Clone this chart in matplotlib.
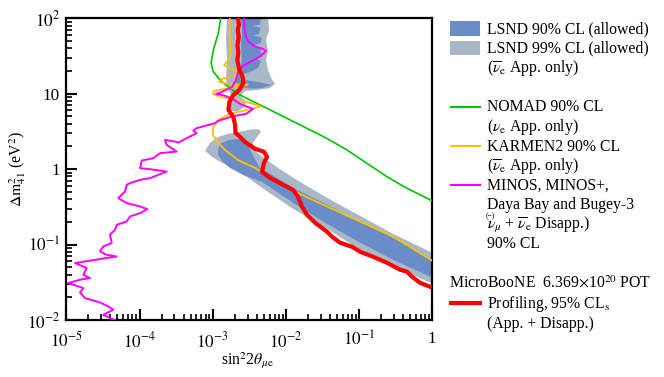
import matplotlib
matplotlib.use("Agg")
import matplotlib.pyplot as plt
from matplotlib.patches import Rectangle
from matplotlib.lines import Line2D

plt.rcParams['font.family'] = 'serif'
plt.rcParams['font.serif'] = ['Liberation Serif', 'DejaVu Serif']
plt.rcParams['mathtext.fontset'] = 'stix'
FS = 11.3
TFS = 12.3

# ---------------- data ----------------
# LSND 99% CL allowed region (two islands)
lsnd99_hi_x = [1.57e-3, 5.70e-3, 5.89e-3, 5.35e-3, 5.70e-3, 5.35e-3, 5.70e-3, 6.27e-3, 7.10e-3, 6.07e-3,
               4.16e-3, 2.76e-3, 2.36e-3, 2.85e-3, 2.68e-3, 2.08e-3, 1.72e-3, 1.62e-3, 1.84e-3, 1.62e-3,
               1.52e-3, 1.57e-3, 1.52e-3]
lsnd99_hi_y = [100, 100, 70, 51.6, 38.0, 28.1, 20.7, 16.2, 13.5, 11.9,
               11.2, 10.9, 9.35, 7.78, 6.49, 5.74, 6.10, 7.78, 9.35, 11.2,
               15.2, 28.1, 51.6]
lsnd99_lo_x = [7.85e-4, 9.18e-4, 1.15e-3, 1.62e-3, 2.44e-3, 3.44e-3, 4.30e-3, 4.57e-3, 4.03e-3, 3.56e-3,
               3.66e-3, 4.72e-3, 7.80e-3, 1.33e-2, 3.65e-2, 0.103, 0.290, 1.0, 1.0, 0.290,
               0.103, 3.65e-2, 1.25e-2, 4.72e-3, 2.36e-3, 1.26e-3, 9.77e-4]
lsnd99_lo_y = [1.75, 2.23, 2.64, 2.94, 3.17, 3.37, 3.37, 3.12, 2.68, 2.23,
               1.80, 1.46, 1.04, 0.744, 0.417, 0.240, 0.139, 0.0778, 0.0303, 0.0524,
               0.0853, 0.162, 0.298, 0.565, 0.920, 1.25, 1.46]
# LSND 90% CL allowed region
lsnd90_hi_x = [2.44e-3, 4.57e-3, 4.40e-3, 3.50e-3, 4.50e-3, 4.30e-3, 3.60e-3, 4.72e-3, 4.50e-3, 3.70e-3,
               4.43e-3, 4.72e-3, 3.80e-3, 4.60e-3, 4.16e-3, 3.24e-3, 2.68e-3, 2.36e-3,
               2.76e-3, 4.16e-3, 6.47e-3, 4.72e-3, 3.24e-3, 2.36e-3, 2.08e-3, 2.15e-3, 2.36e-3, 2.51e-3,
               2.44e-3, 2.51e-3]
lsnd90_hi_y = [100, 100, 82, 79, 75, 62, 59, 55, 47, 44,
               40, 32, 30, 27, 22.0, 19.4, 18.3, 16.2,
               15.2, 14.3, 13.1, 11.9, 11.7, 12.3, 13.5, 16.2, 20.7, 28.1,
               44.3, 70]
lsnd90_lo_x = [1.18e-3, 1.30e-3, 1.62e-3, 2.15e-3, 2.59e-3, 3.03e-3, 3.56e-3, 4.43e-3, 7.55e-3, 1.25e-2,
               3.65e-2, 0.103, 0.290, 1.0, 1.0, 0.290, 0.103, 3.65e-2, 1.25e-2, 4.72e-3,
               2.76e-3, 1.72e-3, 1.34e-3, 1.18e-3]
lsnd90_lo_y = [1.86, 2.20, 2.40, 2.52, 2.40, 2.04, 1.50, 1.04, 0.767, 0.565,
               0.337, 0.202, 0.123, 0.0630, 0.0364, 0.0630, 0.106, 0.188, 0.358, 0.679,
               0.815, 1.04, 1.29, 1.55]

# NOMAD 90% CL
nomad_x = [1.29e-3, 1.19e-3, 1.02e-3, 9.5e-4, 1.02e-3, 1.26e-3, 1.72e-3, 2.36e-3, 3.59e-3, 5.47e-3,
           1.03e-2, 1.92e-2, 3.6e-2, 6.8e-2, 0.127, 0.238, 0.447, 1.0]
nomad_y = [100, 63.3, 38, 25.3, 19.6, 15.2, 11.8, 9.64, 7.85, 6.43,
           4.73, 3.49, 2.57, 1.80, 1.20, 0.798, 0.560, 0.38]

# KARMEN2 90% CL
karmen_x = [1.72e-3, 1.70e-3, 1.75e-3, 1.78e-3, 1.57e-3, 1.43e-3, 1.67e-3, 2.08e-3, 2.36e-3, 1.84e-3,
            1.30e-3, 1.22e-3, 1.62e-3, 2.51e-3, 3.03e-3, 2.36e-3, 1.47e-3, 1.04e-3, 1.01e-3, 1.26e-3,
            2.08e-3, 3.24e-3, 4.57e-3, 2.94e-3, 1.72e-3, 1.18e-3, 1.01e-3, 1.01e-3, 1.11e-3, 1.47e-3,
            2.22e-3, 3.78e-3, 6.47e-3, 1.07e-2, 1.82e-2, 3.65e-2, 0.103, 0.290, 1.0]
karmen_y = [100, 60.1, 38.0, 31.7, 26.4, 24.1, 22.0, 20.0, 18.3, 16.7,
            15.7, 14.3, 13.5, 13.1, 13.3, 12.3, 11.6, 10.9, 9.94, 9.08,
            8.28, 7.55, 6.79, 6.10, 5.40, 4.50, 3.50, 2.84, 2.44, 1.80,
            1.32, 1.04, 0.767, 0.565, 0.436, 0.320, 0.202, 0.128, 0.061]

# MINOS, MINOS+, Daya Bay and Bugey-3 90% CL
minos_x = [2.68e-3, 2.72e-3, 2.85e-3, 3.13e-3, 3.78e-3, 4.87e-3, 5.35e-3, 4.57e-3, 3.44e-3, 2.59e-3,
           2.22e-3, 2.08e-3, 1.84e-3, 1.34e-3, 1.11e-3, 1.43e-3, 1.89e-3, 2.36e-3, 3.56e-3, 2.85e-3,
           1.84e-3, 1.18e-3, 1.07e-3, 6.04e-4, 5.43e-4, 6.04e-4, 3.96e-4, 3.39e-4, 3.06e-4, 2.23e-4,
           2.35e-4, 3.22e-4, 1.91e-4, 1.55e-4, 1.07e-4, 1.02e-4, 1.39e-4, 2.35e-4, 1.81e-4, 1.39e-4,
           1.02e-4, 7.41e-5, 6.68e-5, 6.34e-5, 5.13e-5, 6.68e-5, 1.02e-4, 1.28e-4, 1.02e-4, 7.41e-5,
           6.68e-5, 4.89e-5, 4.62e-5, 3.95e-5, 4.17e-5, 3.20e-5, 2.88e-5, 3.56e-5, 4.89e-5, 2.88e-5,
           1.32e-5, 1.90e-5, 1.71e-5, 2.11e-5, 1.54e-5, 1.06e-5, 1.71e-5, 1.54e-5, 1.80e-5, 2.88e-5,
           3.75e-5, 4.39e-5, 3.20e-5, 3.95e-5, 4.62e-5]
minos_y = [100, 70, 56.5, 48.5, 42.3, 39.2, 36.9, 31.7, 27.2, 23.3,
           19.4, 15.2, 12.3, 10.6, 9.94, 9.49, 8.53, 7.32, 6.29, 5.40,
           5.00, 4.36, 4.07, 3.49, 3.24, 3.00, 2.44, 2.25, 2.32, 2.44,
           2.10, 1.71, 1.63, 1.40, 1.30, 1.03, 1.00, 0.929, 0.841, 0.760,
           0.721, 0.653, 0.620, 0.505, 0.413, 0.355, 0.320, 0.295, 0.261, 0.236,
           0.202, 0.183, 0.157, 0.135, 0.105, 0.0944, 0.0811, 0.0733, 0.0695, 0.0643,
           0.0569, 0.0489, 0.0398, 0.0360, 0.0342, 0.0309, 0.0265, 0.0232, 0.0195, 0.0171,
           0.0151, 0.0137, 0.0117, 0.0106, 0.0100]

# MicroBooNE profiling 95% CLs
uboone_x = [2.22e-3, 2.28e-3, 2.20e-3, 2.27e-3, 2.18e-3, 2.24e-3, 2.17e-3, 2.31e-3, 2.57e-3, 2.62e-3,
            2.31e-3, 1.91e-3, 1.69e-3,
            1.64e-3, 1.91e-3, 2.02e-3, 2.05e-3, 2.36e-3, 2.76e-3, 3.78e-3, 5.02e-3, 5.52e-3, 5.02e-3,
            4.72e-3, 6.07e-3, 9.12e-3, 1.25e-2, 1.46e-2, 1.66e-2, 1.94e-2, 2.50e-2, 3.65e-2, 4.27e-2,
            5.48e-2, 8.00e-2, 0.103, 0.155, 0.240, 0.362, 0.451, 0.528, 0.679, 0.93]
uboone_y = [100, 82, 70, 56, 44.3, 35, 28.1, 20.7, 16.7, 13.9,
            11.2, 9.64, 7.78,
            6.10, 4.93, 3.86, 3.03, 2.68, 2.30, 1.86, 1.70, 1.46, 1.21,
            0.920, 0.767, 0.620, 0.532, 0.430, 0.317, 0.248, 0.195, 0.148, 0.127,
            0.106, 0.0936, 0.0804, 0.069, 0.0574, 0.0464, 0.0437, 0.0375, 0.0312, 0.0276]

x_ticks = [1e-5, 1e-4, 1e-3, 1e-2, 1e-1, 1]
x_ticklabels = [r'$10^{-5}$', r'$10^{-4}$', r'$10^{-3}$', r'$10^{-2}$', r'$10^{-1}$', '1']
y_ticks = [1e-2, 1e-1, 1, 10, 100]
y_ticklabels = [r'$10^{-2}$', r'$10^{-1}$', '1', '10', r'$10^{2}$']

C90 = '#6a8cc7'
C99 = '#a9b8c6'
CG = '#00c400'
CY = '#ffc000'
CM = '#ff00ff'
CR = '#ff0000'

# ---------------- figure ----------------
W, H = 664, 377
fig = plt.figure(figsize=(W / 100, H / 100), dpi=100)
L, R, T, B = 66.3, 432.3, 18.3, 320.0
ax = fig.add_axes([L / W, 1 - B / H, (R - L) / W, (B - T) / H])
ax.set_xscale('log')
ax.set_yscale('log')

ax.fill(lsnd99_hi_x, lsnd99_hi_y, color=C99, lw=0, zorder=1)
ax.fill(lsnd99_lo_x, lsnd99_lo_y, color=C99, lw=0, zorder=1)
ax.fill(lsnd90_hi_x, lsnd90_hi_y, color=C90, lw=0, zorder=2)
ax.fill(lsnd90_lo_x, lsnd90_lo_y, color=C90, lw=0, zorder=2)

ax.plot(nomad_x, nomad_y, color=CG, lw=1.2, zorder=3)
ax.plot(karmen_x, karmen_y, color=CY, lw=1.3, zorder=4)
ax.plot(minos_x, minos_y, color=CM, lw=1.4, zorder=5)
ax.plot(uboone_x, uboone_y, color=CR, lw=3.0, zorder=6, solid_joinstyle='round')

ax.set_xlim(1e-5, 1)
ax.set_ylim(1e-2, 1e2)
ax.set_xticks(x_ticks, labels=x_ticklabels)
ax.set_yticks(y_ticks, labels=y_ticklabels)
ax.tick_params(which='both', direction='in', top=False, right=False, labelsize=TFS)
ax.tick_params(which='major', length=8, width=1.5)
ax.tick_params(which='minor', length=4.5, width=1.2)
ax.tick_params(axis='x', which='major', pad=8)
ax.tick_params(axis='y', which='major', pad=4.5)
for s in ax.spines.values():
    s.set_linewidth(1.6)

ax.set_xlabel(r'sin$^2$2$\theta_{\mu\mathrm{e}}$', fontsize=FS)
ax.xaxis.set_label_coords(0.496, -0.10)
ax.set_ylabel(r'$\Delta\mathrm{m}^2_{41}$ (eV$^2$)', fontsize=FS)
ax.yaxis.set_label_coords(-0.105, 0.5)

# ---------------- legend ----------------
def fx(px):
    return px / W

def fy(py):
    return 1 - py / H

TX = 486.7
def label(py, s, x=TX):
    fig.text(fx(x), fy(py + 5.3), s, fontsize=FS, ha='left', va='baseline')

fig.patches.append(Rectangle((fx(450), fy(35.5)), 30 / W, 14.5 / H, transform=fig.transFigure,
                             color=C90, lw=0))
fig.patches.append(Rectangle((fx(450), fy(55)), 30 / W, 14.5 / H, transform=fig.transFigure,
                             color=C99, lw=0))
for py, c, lw in [(106.7, CG, 1.5), (145.7, CY, 1.5), (185, CM, 1.5), (302.7, CR, 3.0)]:
    fig.lines.append(Line2D([fx(451), fx(480)], [fy(py), fy(py)], transform=fig.transFigure,
                            color=c, lw=lw))

label(27.7, 'LSND 90% CL (allowed)')
label(47.3, 'LSND 99% CL (allowed)')
label(66.7, r'($\overline{\nu}_{\mathrm{e}}$ App. only)')
label(106, 'NOMAD 90% CL')
label(126, r'($\nu_{\mathrm{e}}$ App. only)')
label(145.3, 'KARMEN2 90% CL')
label(165, r'($\overline{\nu}_{\mathrm{e}}$ App. only)')
label(184.3, 'MINOS, MINOS+,')
label(204, 'Daya Bay and Bugey-3')
label(224, r'$\nu_{\mu}$ + $\overline{\nu}_{\mathrm{e}}$ Disapp.)')
fig.text(fx(490.5), fy(216.5), '(\u2212)', fontsize=5.5, ha='center', va='center')
label(242.7, '90% CL')
label(282.3, r'MicroBooNE  6.369$\times$10$^{20}$ POT', x=449.3)
label(302.7, r'Profiling, 95% CL$_{\mathrm{s}}$')
label(322.7, '(App. + Disapp.)')

fig.savefig('out.png', dpi=100)
